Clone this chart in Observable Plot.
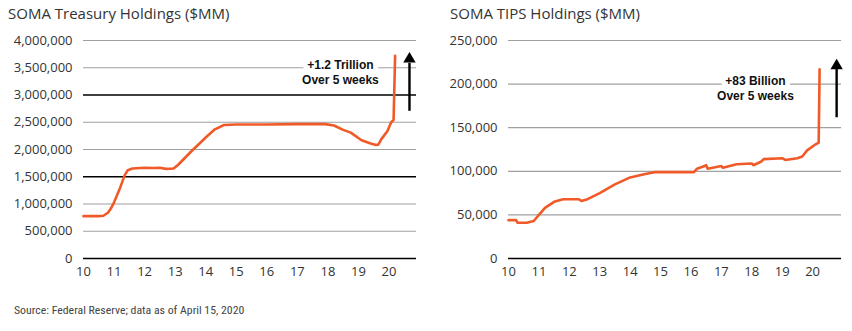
<!DOCTYPE html>
<html><head><meta charset="utf-8">
<script src="https://cdn.jsdelivr.net/npm/d3@7"></script>
<script src="https://cdn.jsdelivr.net/npm/@observablehq/plot@0.6"></script>
<style>
body{margin:0;background:#fff;width:852px;height:331px;overflow:hidden;position:relative;font-family:"Open Sans",sans-serif}
.title{position:absolute;top:3px;font-size:15px;color:#333;white-space:nowrap;line-height:20px}
.chart{position:absolute;top:28px}
.caption{position:absolute;left:14px;top:303px;font-family:"Liberation Sans Narrow","Roboto Condensed","DejaVu Sans Condensed",sans-serif;font-stretch:condensed;font-size:11.8px;color:#444;white-space:nowrap}
</style></head>
<body>
<div class="title" style="left:8px">SOMA Treasury Holdings ($MM)</div>
<div class="title" style="left:450px">SOMA TIPS Holdings ($MM)</div>
<div class="chart" id="left" style="left:0px"></div>
<div class="chart" id="right" style="left:426px"></div>
<div class="caption">Source: Federal Reserve; data as of April 15, 2020</div>
<script>
// Years (20xx) and holdings ($MM)
const treasuryYears = [10.0,10.5,10.65,10.8,10.9,11.0,11.2,11.35,11.45,11.6,12.0,12.3,12.5,12.7,12.95,13.1,13.5,14.0,14.3,14.6,15.0,16.0,17.0,17.9,18.2,18.5,18.75,19.1,19.4,19.55,19.65,19.75,19.95,20.07,20.15,20.2];
const treasuryValues = [777000,777000,785000,840000,920000,1030000,1300000,1530000,1620000,1650000,1665000,1660000,1665000,1645000,1650000,1720000,1950000,2220000,2370000,2450000,2460000,2460000,2465000,2465000,2440000,2360000,2310000,2170000,2110000,2085000,2090000,2190000,2340000,2500000,2540000,3720000];

const tipsYears = [10.0,10.25,10.3,10.6,10.83,11.0,11.2,11.5,11.8,12.0,12.3,12.4,12.6,13.0,13.5,14.0,14.5,14.8,16.1,16.2,16.45,16.5,16.55,17.0,17.05,17.5,18.0,18.05,18.3,18.4,19.0,19.1,19.5,19.66,19.82,20.1,20.2,20.23];
const tipsValues = [44000,44000,41000,41000,43000,50000,58000,65000,68000,68000,68000,66000,68000,75000,85000,93000,97000,99000,99000,103000,106000,107000,103000,106000,104000,108000,109000,107000,111000,114000,115000,113000,115000,117000,124000,131000,133000,217000];

const xTicks = [10,11,12,13,14,15,16,17,18,19,20];
const treasuryTicks = [0,500000,1000000,1500000,2000000,2500000,3000000,3500000,4000000];
const treasuryDarkTicks = [0,1500000,3000000];
const tipsTicks = [0,50000,100000,150000,200000,250000];
const tipsDarkTicks = [0];

const treasuryNote = {x: 18.41, y: 3420000, text: "+1.2 Trillion\nOver 5 weeks"};
const tipsNote = {x: 18.12, y: 196000, text: "+83 Billion\nOver 5 weeks"};
const treasuryArrow = {x: 20.67, from: 2710000, to: 3590000, head: 3660000};
const tipsArrow = {x: 20.79, from: 162000, to: 220000, head: 221000};

const lineColor = "#f05a28";

function panel(years, values, yTicks, darkTicks, yMax, xMax, mLeft, mRight, note, arrow) {
  const data = years.map((x, i) => ({x, y: values[i]}));
  const light = yTicks.filter(t => !darkTicks.includes(t));
  return Plot.plot({
    width: 426, height: 262,
    marginTop: 12, marginBottom: 32, marginLeft: mLeft, marginRight: mRight,
    style: {fontFamily: "'Open Sans', sans-serif", fontSize: "13px", color: "#333", background: "#fff"},
    x: {domain: [10, xMax], ticks: xTicks, tickFormat: d => String(d), tickSize: 0, tickPadding: 8, label: null},
    y: {domain: [0, yMax], ticks: yTicks, tickFormat: d3.format(","), tickSize: 0, tickPadding: 11, label: null},
    marks: [
      Plot.ruleY(light, {stroke: "#a0a0a0", strokeWidth: 1.2}),
      Plot.ruleY(darkTicks, {stroke: "#000", strokeWidth: 1.3}),
      Plot.text([note], {x: "x", y: "y", text: "text", fontWeight: "bold", fontSize: 12, lineHeight: 1.25,
        fontFamily: "'Liberation Sans', Arial, sans-serif", fill: "#111", stroke: "white", strokeWidth: 10}),
      Plot.line(data, {x: "x", y: "y", stroke: lineColor, strokeWidth: 2.6}),
      Plot.link([arrow], {x1: "x", x2: "x", y1: "from", y2: "to", stroke: "#000", strokeWidth: 2.4}),
      Plot.dot([arrow], {x: "x", y: "head", symbol: "triangle", r: 4.6, fill: "#000", stroke: "none"})
    ]
  });
}

document.getElementById("left").append(panel(treasuryYears, treasuryValues, treasuryTicks, treasuryDarkTicks, 4000000, 20.9, 83, 10, treasuryNote, treasuryArrow));
document.getElementById("right").append(panel(tipsYears, tipsValues, tipsTicks, tipsDarkTicks, 250000, 20.95, 82, 11, tipsNote, tipsArrow));
</script>
</body></html>
